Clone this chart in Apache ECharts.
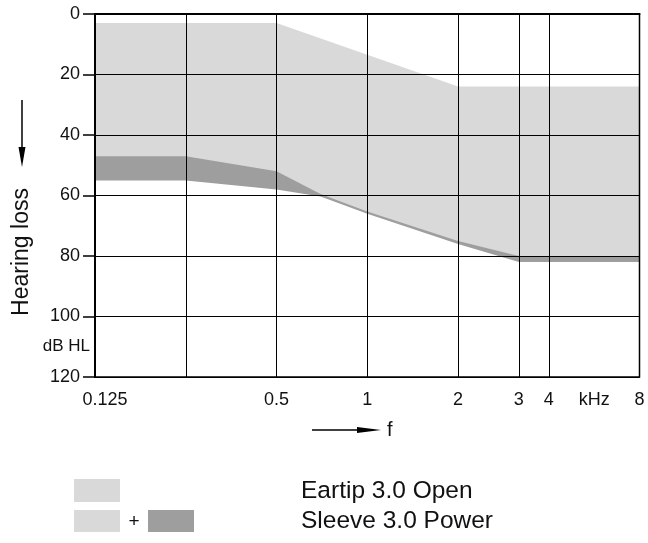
<!DOCTYPE html>
<html>
<head>
<meta charset="utf-8">
<script src="https://cdn.jsdelivr.net/npm/echarts@6/dist/echarts.min.js"></script>
<style>html,body{margin:0;padding:0;background:#fff}#c{width:648px;height:543px}</style>
</head>
<body>
<div id="c"></div>
<script>
// Axis scale: frequency ticks (kHz) and their drawn octave positions
var tickFreqs = [0.125, 0.25, 0.5, 1, 2, 3, 4, 8];
var tickPos   = [0, 1, 2, 3, 4, 4.67, 5, 6];
var yTicks = [0, 20, 40, 60, 80, 100, 120];
var xLabelFreqs = [0.125, 0.5, 1, 2, 3, 4, 5.66, 8];
var xLabelTexts = ['0.125', '0.5', '1', '2', '3', '4', 'kHz', '8'];

// Eartip 3.0 Open : upper edge of the range
var topFreqs = [0.125, 0.5, 2, 8];
var topDb    = [3, 3, 24, 24];
// Eartip 3.0 Open : lower edge
var openFreqs = [0.125, 0.25, 0.5, 0.7, 1, 2, 3, 8];
var openDb    = [47, 47, 52, 59.5, 65.3, 75, 80, 80];
// Sleeve 3.0 Power : lower edge
var powerFreqs = [0.125, 0.25, 0.5, 0.7, 1, 2, 3, 8];
var powerDb    = [55, 55, 58, 60.3, 66, 76, 82, 82];

function pos(f) {
  for (var i = 0; i < tickFreqs.length - 1; i++) {
    if (f <= tickFreqs[i + 1] || i === tickFreqs.length - 2) {
      var t = Math.log(f / tickFreqs[i]) / Math.log(tickFreqs[i + 1] / tickFreqs[i]);
      return tickPos[i] + (tickPos[i + 1] - tickPos[i]) * t;
    }
  }
}
function pts(fs, ds) { return fs.map(function (f, i) { return [pos(f), ds[i]]; }); }

var FONT = 'Liberation Sans, Arial, Helvetica, sans-serif';
var LIGHT = '#d9d9d9', DARK = '#9e9e9e';

var labelPositions = xLabelFreqs.map(pos);
function xLabel(v) {
  for (var i = 0; i < labelPositions.length; i++) {
    if (Math.abs(labelPositions[i] - v) < 1e-6) return i === 0 ? '{first|' + xLabelTexts[i] + '}' : xLabelTexts[i];
  }
  return '';
}

var chart = echarts.init(document.getElementById('c'), null, {renderer: 'canvas'});
chart.setOption({
  animation: false,
  backgroundColor: '#fff',
  textStyle: {fontFamily: FONT},
  grid: {left: 95, right: 8.5, top: 14, bottom: 166, show: true, borderColor: '#000', borderWidth: 1.5, z: 10, backgroundColor: 'transparent'},
  xAxis: {
    type: 'value', min: 0, max: 6, interval: 1, z: 10,
    axisLine: {show: true, lineStyle: {color: '#000', width: 2}},
    axisTick: {show: false},
    splitLine: {show: true, lineStyle: {color: '#000', width: 1}},
    axisLabel: {
      customValues: labelPositions,
      formatter: xLabel, color: '#111', fontSize: 18, fontFamily: FONT, margin: 14,
      rich: {first: {fontSize: 18, fontFamily: FONT, color: '#111', padding: [0, 0, 0, 20]}}
    }
  },
  yAxis: {
    type: 'value', inverse: true, min: 0, max: 120, interval: 20, z: 10,
    axisLine: {show: true, lineStyle: {color: '#000', width: 2}},
    axisTick: {show: true, inside: false, length: 12, lineStyle: {color: '#000', width: 1.5}, customValues: yTicks},
    splitLine: {show: true, lineStyle: {color: '#000', width: 1}},
    axisLabel: {
      customValues: [0, 20, 40, 60, 80, 100, 110, 120],
      formatter: function (v) { return v === 110 ? '{s|dB HL}' : '{n|' + v + '}'; },
      color: '#111', fontSize: 18, fontFamily: FONT, margin: 5,
      rich: {
        s: {fontSize: 17, fontFamily: FONT, color: '#111'},
        n: {fontSize: 18, fontFamily: FONT, color: '#111', padding: [0, 10, 0, 0]}
      }
    }
  },
  series: [
    {type: 'line', name: 'Sleeve 3.0 Power', data: pts(powerFreqs, powerDb), z: 2, showSymbol: false,
     lineStyle: {width: 0}, areaStyle: {color: DARK, opacity: 1}},
    {type: 'line', name: 'Eartip 3.0 Open', data: pts(openFreqs, openDb), z: 3, showSymbol: false,
     lineStyle: {width: 0}, areaStyle: {color: LIGHT, opacity: 1}},
    {type: 'line', name: 'top', data: pts(topFreqs, topDb), z: 4, showSymbol: false,
     lineStyle: {width: 0}, areaStyle: {color: '#fff', opacity: 1}},
    {type: 'line', name: 'grid3', data: [], z: 12, silent: true,
     markLine: {silent: true, symbol: 'none', label: {show: false}, lineStyle: {color: '#000', width: 1, type: 'solid'},
                data: [{xAxis: pos(3)}]}}
  ],
  graphic: [
    {type: 'line', shape: {x1: 22, y1: 100, x2: 22, y2: 152}, style: {stroke: '#000', lineWidth: 1.5}},
    {type: 'polygon', shape: {points: [[18.5, 147], [25.5, 147], [22, 167]]}, style: {fill: '#000'}},
    {type: 'text', x: 22, y: 252, rotation: Math.PI / 2,
     style: {text: 'Hearing loss', fontSize: 23, fontFamily: FONT, fill: '#111', align: 'center', verticalAlign: 'middle'}},
    {type: 'line', shape: {x1: 312, y1: 430, x2: 362, y2: 430}, style: {stroke: '#000', lineWidth: 1.5}},
    {type: 'polygon', shape: {points: [[357, 427], [381, 430], [357, 433]]}, style: {fill: '#000'}},
    {type: 'text', x: 387, y: 430,
     style: {text: 'f', fontSize: 20, fontFamily: FONT, fill: '#111', align: 'left', verticalAlign: 'middle'}},
    {type: 'rect', shape: {x: 74, y: 479, width: 46, height: 23}, style: {fill: LIGHT}},
    {type: 'rect', shape: {x: 74, y: 510, width: 46, height: 22}, style: {fill: LIGHT}},
    {type: 'text', x: 134, y: 522,
     style: {text: '+', fontSize: 19, fontFamily: FONT, fill: '#111', align: 'center', verticalAlign: 'middle'}},
    {type: 'rect', shape: {x: 148, y: 510, width: 46, height: 22}, style: {fill: DARK}},
    {type: 'text', x: 301, y: 491,
     style: {text: 'Eartip 3.0 Open', fontSize: 24.5, fontFamily: FONT, fill: '#111', align: 'left', verticalAlign: 'middle'}},
    {type: 'text', x: 301, y: 521,
     style: {text: 'Sleeve 3.0 Power', fontSize: 24.5, fontFamily: FONT, fill: '#111', align: 'left', verticalAlign: 'middle'}}
  ]
});
</script>
</body>
</html>
